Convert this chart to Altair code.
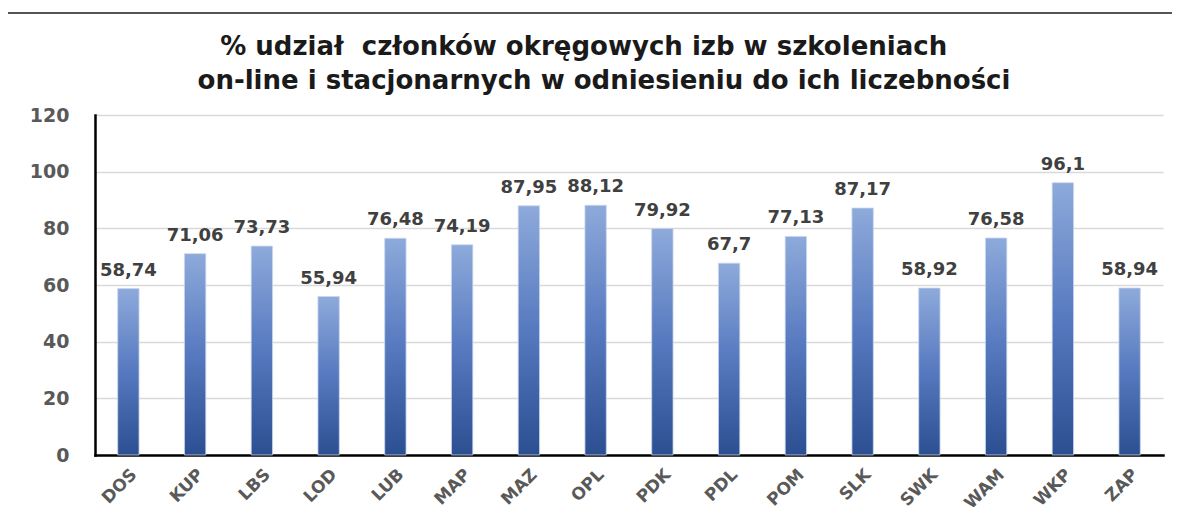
import altair as alt
import pandas as pd

categories = ["DOS", "KUP", "LBS", "LOD", "LUB", "MAP", "MAZ", "OPL",
              "PDK", "PDL", "POM", "SLK", "SWK", "WAM", "WKP", "ZAP"]
values = [58.74, 71.06, 73.73, 55.94, 76.48, 74.19, 87.95, 88.12,
          79.92, 67.7, 77.13, 87.17, 58.92, 76.58, 96.1, 58.94]
labels = ["58,74", "71,06", "73,73", "55,94", "76,48", "74,19", "87,95", "88,12",
          "79,92", "67,7", "77,13", "87,17", "58,92", "76,58", "96,1", "58,94"]
title_lines = ["% udział\u00a0 członków okręgowych izb w szkoleniach\u2800\u2800",
               "on-line i stacjonarnych w odniesieniu do ich liczebności"]

df = pd.DataFrame({"cat": categories, "val": values, "lab": labels})

FONT = "DejaVu Sans"

x_enc = alt.X("cat:N", sort=categories, title=None,
              scale=alt.Scale(paddingInner=0.68, paddingOuter=0.34),
              axis=alt.Axis(labelAngle=-45, labelFont=FONT, labelFontSize=17,
                            labelFontWeight="bold", labelColor="#595959",
                            labelPadding=11, ticks=False, domainColor="#000000",
                            domainWidth=2.5))
y_enc = alt.Y("val:Q", title=None,
              scale=alt.Scale(domain=[0, 120]),
              axis=alt.Axis(values=[0, 20, 40, 60, 80, 100, 120], ticks=False,
                            labelFont=FONT, labelFontSize=19, labelFontWeight="bold",
                            labelColor="#595959", labelPadding=26,
                            gridColor="#d9d9d9", gridWidth=1.5,
                            domainColor="#000000", domainWidth=2.5))

bars = alt.Chart(df).mark_bar(
    color=alt.Gradient(
        gradient="linear", x1=0, x2=0, y1=0, y2=1,
        stops=[alt.GradientStop(color="#8eaadb", offset=0),
               alt.GradientStop(color="#5679bf", offset=0.5),
               alt.GradientStop(color="#2c4f92", offset=1)]
    ),
    stroke="#c9d6ee", strokeWidth=0.8
).encode(x=x_enc, y=y_enc)

text = alt.Chart(df).mark_text(
    dy=-18, font=FONT, fontSize=18, fontWeight="bold", color="#404040"
).encode(x=alt.X("cat:N", sort=categories), y=alt.Y("val:Q"), text="lab:N")

frame_top = alt.Chart(df).mark_rule(color="#555555", strokeWidth=1.5).encode(
    x=alt.value(-88), x2=alt.value(1090), y=alt.value(-102))
frame_left = alt.Chart(df).mark_rule(color="#555555", strokeWidth=1.5).encode(
    x=alt.value(-88), y=alt.value(-102), y2=alt.value(420))

chart = alt.layer(frame_top, frame_left, bars, text).properties(
    width=1068, height=340,
    autosize=alt.AutoSizeParams(type="none"),
    padding={"left": 87, "top": 107, "right": 9, "bottom": 58},
    title=alt.TitleParams(text=title_lines, font=FONT, fontSize=26, fontWeight="bold",
                          color="#1a1a1a", anchor="middle", dx=-25, dy=104, offset=22,
                          lineHeight=34)
).configure_view(stroke=None).configure_axis(domainCap="square")

chart.save("out.html", embed_options={"renderer": "svg", "actions": False})
